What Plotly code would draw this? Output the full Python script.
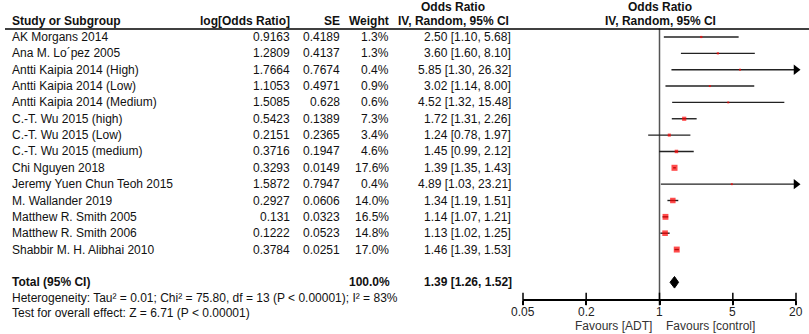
import math
import plotly.graph_objects as go

# ---------------- data ----------------
studies = [
    "AK Morgans 2014", "Ana M. Lo´pez 2005", "Antti Kaipia 2014 (High)",
    "Antti Kaipia 2014 (Low)", "Antti Kaipia 2014 (Medium)", "C.-T. Wu 2015 (high)",
    "C.-T. Wu 2015 (Low)", "C.-T. Wu 2015 (medium)", "Chi Nguyen 2018",
    "Jeremy Yuen Chun Teoh 2015", "M. Wallander 2019", "Matthew R. Smith 2005",
    "Matthew R. Smith 2006", "Shabbir M. H. Alibhai 2010",
]
log_or = [0.9163, 1.2809, 1.7664, 1.1053, 1.5085, 0.5423, 0.2151, 0.3716,
          0.3293, 1.5872, 0.2927, 0.131, 0.1222, 0.3784]
se = [0.4189, 0.4137, 0.7674, 0.4971, 0.628, 0.1389, 0.2365, 0.1947,
      0.0149, 0.7947, 0.0606, 0.0323, 0.0523, 0.0251]
weight = [1.3, 1.3, 0.4, 0.9, 0.6, 7.3, 3.4, 4.6, 17.6, 0.4, 14.0, 16.5, 14.8, 17.0]
odds = [2.50, 3.60, 5.85, 3.02, 4.52, 1.72, 1.24, 1.45, 1.39, 4.89, 1.34, 1.14, 1.13, 1.46]
ci_lo = [1.10, 1.60, 1.30, 1.14, 1.32, 1.31, 0.78, 0.99, 1.35, 1.03, 1.19, 1.07, 1.02, 1.39]
ci_hi = [5.68, 8.10, 26.32, 8.00, 15.48, 2.26, 1.97, 2.12, 1.43, 23.21, 1.51, 1.21, 1.25, 1.53]

total_weight = 100.0
total_or = 1.39
total_lo = 1.26
total_hi = 1.52

tick_vals = [0.05, 0.2, 1, 5, 20]
tick_text = ["0.05", "0.2", "1", "5", "20"]
heterogeneity = "Heterogeneity: Tau² = 0.01; Chi² = 75.80, df = 13 (P &lt; 0.00001); I² = 83%"
overall = "Test for overall effect: Z = 6.71 (P &lt; 0.00001)"
favours_left = "Favours [ADT]"
favours_right = "Favours [control]"

# ---------------- layout geometry (pixels) ----------------
W, H = 809, 334
ROW0, STEP = 37.0, 16.35
AXIS_PIX = 299.0
X_LEFT, X_RIGHT = 523.0, 796.0
FONT = "Arial, Liberation Sans, sans-serif"
TXT = "#111111"


def idx_of(pix):
    return (pix - ROW0) / STEP


def py(pix):
    return 1 - pix / H


def px(pix):
    return pix / W


xmin, xmax = tick_vals[0], tick_vals[-1]
y_top = idx_of(0)
y_bot = idx_of(AXIS_PIX)
total_idx = idx_of(282.3)

fig = go.Figure()

rows = list(range(len(studies)))

# reference line at OR = 1
fig.add_trace(go.Scatter(x=[1, 1], y=[idx_of(28.5), y_bot], mode="lines",
                         line=dict(color="#555555", width=1.5),
                         hoverinfo="skip", showlegend=False))

# CI lines
lx, ly = [], []
for i in rows:
    lx += [max(ci_lo[i], xmin), min(ci_hi[i], xmax), None]
    ly += [i, i, None]
fig.add_trace(go.Scatter(x=lx, y=ly, mode="lines",
                         line=dict(color="#222222", width=1.4),
                         hoverinfo="skip", showlegend=False))

# arrows where CI exceeds the axis
ax_i = [i for i in rows if ci_hi[i] > xmax]
fig.add_trace(go.Scatter(x=[xmax] * len(ax_i), y=ax_i, mode="markers",
                         marker=dict(symbol="triangle-right", size=9, color="black"),
                         cliponaxis=False, hoverinfo="skip", showlegend=False))

# study squares
fig.add_trace(go.Scatter(x=odds, y=rows, mode="markers",
                         marker=dict(symbol="square", color="#ff0000",
                                     size=[max(2.0, 1.25 * math.sqrt(w) + 0.8) for w in weight],
                                     line=dict(width=0)),
                         hoverinfo="skip", showlegend=False))

# total diamond
h = 5.8 / STEP
fig.add_trace(go.Scatter(x=[total_lo, total_or, total_hi, total_or, total_lo],
                         y=[total_idx, total_idx - h, total_idx, total_idx + h, total_idx],
                         mode="lines", fill="toself", fillcolor="black",
                         line=dict(color="black", width=1),
                         hoverinfo="skip", showlegend=False))

# tick bars crossing the axis
fig.add_trace(go.Scatter(x=tick_vals, y=[y_bot] * len(tick_vals), mode="markers",
                         marker=dict(symbol="line-ns", size=9,
                                     line=dict(width=1.5, color="black")),
                         cliponaxis=False, hoverinfo="skip", showlegend=False))

ann = []


def add(text, x, y, anchor="left", yref="y", bold=False, color=TXT, size=12, xref="paper"):
    ann.append(dict(text=f"<b>{text}</b>" if bold else text, x=x, y=y,
                    xref=xref, yref=yref, xanchor=anchor, yanchor="middle",
                    showarrow=False, font=dict(family=FONT, size=size, color=color)))


# headers
hy = py(20.5)
add("Study or Subgroup", px(10), hy, yref="paper", bold=True)
add("log[Odds Ratio]", px(292), hy, "right", yref="paper", bold=True)
add("SE", px(342), hy, "right", yref="paper", bold=True)
add("Weight", px(391), hy, "right", yref="paper", bold=True)
add("Odds Ratio", px(453), py(6.5), "center", yref="paper", bold=True)
add("IV, Random, 95% CI", px(453), hy, "center", yref="paper", bold=True)
add("Odds Ratio", px(660), py(6.5), "center", yref="paper", bold=True)
add("IV, Random, 95% CI", px(660), hy, "center", yref="paper", bold=True)

# rows
for i in rows:
    add(studies[i], px(10), i)
    add(str(log_or[i]), px(292), i, "right")
    add(str(se[i]), px(342), i, "right")
    add(f"{weight[i]:.1f}%", px(391), i, "right")
    add(f"{odds[i]:.2f} [{ci_lo[i]:.2f}, {ci_hi[i]:.2f}]", px(513), i, "right")

# total
add("Total (95% CI)", px(10), total_idx, bold=True)
add(f"{total_weight:.1f}%", px(392), total_idx, "right", bold=True)
add(f"{total_or:.2f} [{total_lo:.2f}, {total_hi:.2f}]", px(514), total_idx, "right", bold=True)
add(heterogeneity, px(10), py(297.5), yref="paper")
add(overall, px(10), py(313), yref="paper")

# axis tick labels (placed on the log axis)
for v, t in zip(tick_vals, tick_text):
    add(t, math.log10(v), py(311.5), "center", yref="paper", xref="x", color="#222222")

add(favours_left, px(654), py(326), "right", yref="paper", color="#333333")
add(favours_right, px(664), py(326), "left", yref="paper", color="#333333")

fig.update_layout(
    width=W, height=H, margin=dict(l=0, r=0, t=0, b=0),
    paper_bgcolor="white", plot_bgcolor="white",
    showlegend=False, annotations=ann,
    shapes=[dict(type="line", xref="paper", yref="paper", x0=px(5), x1=1,
                 y0=py(29), y1=py(29), line=dict(color="black", width=1.5))],
    xaxis=dict(type="log", range=[math.log10(xmin), math.log10(xmax)],
               domain=[px(X_LEFT), px(X_RIGHT)], tickvals=tick_vals,
               showticklabels=False,
               ticks="outside", ticklen=4, tickwidth=1.5, tickcolor="black",
               showline=True, linecolor="black", linewidth=1.5,
               showgrid=False, zeroline=False, fixedrange=True),
    yaxis=dict(range=[y_bot, y_top], domain=[1 - AXIS_PIX / H, 1], visible=False,
               showgrid=False, zeroline=False, fixedrange=True),
    font=dict(family=FONT, size=12, color=TXT),
)

fig.write_html(
    "out.html",
    config={"displayModeBar": False},
    post_script="document.body.style.margin='0';document.body.style.overflow='hidden';",
)
